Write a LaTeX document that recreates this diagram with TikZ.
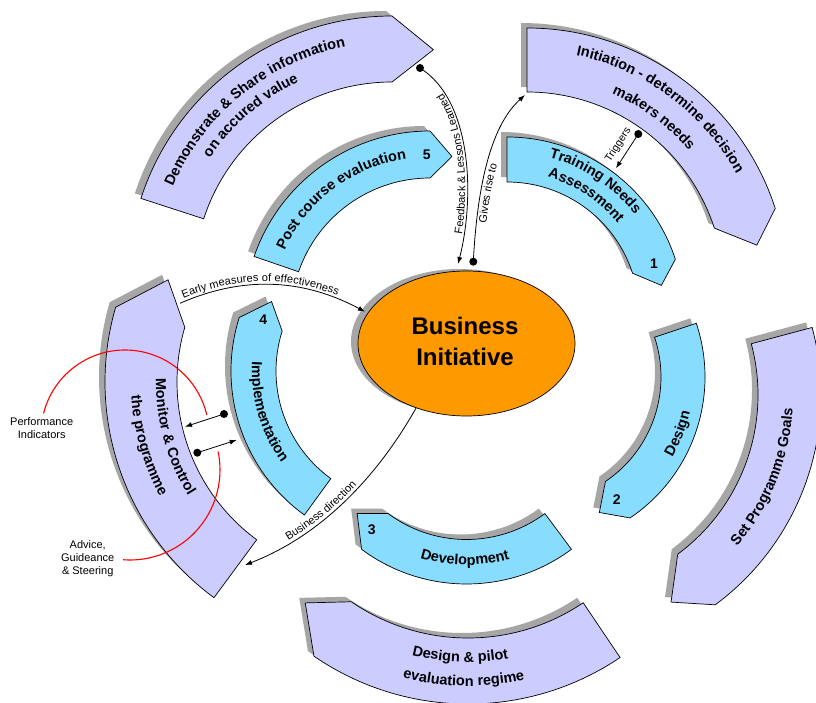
\documentclass[tikz,border=0pt]{standalone}
\usepackage{fontspec}
\setmainfont{Liberation Sans}
\usetikzlibrary{shapes.geometric,arrows.meta,decorations.text}
\definecolor{lav}{HTML}{CCCCFF}
\definecolor{sky}{HTML}{88DDFF}
\definecolor{org}{HTML}{FF9900}
\definecolor{shd}{HTML}{A6A6A6}
\newcommand{\lblf}{\fontsize{14.5}{17}\selectfont\bfseries}
\newcommand{\cnf}{\fontsize{11}{13}\selectfont}
% #1 cx, #2 cy, #3 rin, #4 rout, #5 start angle, #6 end angle, #7 tip angle, #8 tip radius, #9 style
\newcommand{\seg}[9]{%
  \fill[shd] ([shift={(#1-6,#2+5)}]#5:#4pt) arc[start angle=#5, end angle=#6, radius=#4pt]
    -- ([shift={(#1-6,#2+5)}]#7:#8pt) -- ([shift={(#1-6,#2+5)}]#6:#3pt)
    arc[start angle=#6, end angle=#5, radius=#3pt] -- cycle;
  \draw[#9] ([shift={(#1,#2)}]#5:#4pt) arc[start angle=#5, end angle=#6, radius=#4pt]
    -- ([shift={(#1,#2)}]#7:#8pt) -- ([shift={(#1,#2)}]#6:#3pt)
    arc[start angle=#6, end angle=#5, radius=#3pt] -- cycle;
}
% #1 cx, #2 cy, #3 radius, #4 start angle, #5 end angle, #6 text
\newcommand{\atext}[6]{%
  \path[decorate, decoration={text along path, text align=center, text={|\lblf|#6}}]
    ([shift={(#1,#2)}]#4:#3pt) arc[start angle=#4, end angle=#5, radius=#3pt];
}
\begin{document}
\begin{tikzpicture}[x=1pt,y=1pt,
  conn/.style={line width=0.8pt, draw=black},
  arr/.style={conn, -{Latex[length=7pt,width=5pt]}},
  segline/.style={draw=black, line width=0.7pt, line join=miter},
  lavseg/.style={segline, fill=lav},
  skyseg/.style={segline, fill=sky},
  numlbl/.style={font=\fontsize{14}{16}\selectfont\bfseries, inner sep=0pt},
  smlbl/.style={font=\fontsize{11}{13}\selectfont, align=center, inner sep=0pt},
  redarc/.style={draw=red, line width=1.1pt}
]
\useasboundingbox (0,0) rectangle (816,702);
\fill[white] (0,0) rectangle (816,702);

% outer ring (lavender)
\seg{527}{413}{197}{261}{90}{18}{10.8}{234}{lavseg}
\seg{392}{422}{198}{264}{162}{90}{79.8}{234}{lavseg}
\seg{560}{307}{198}{261}{15}{-53.5}{-61.8}{235}{lavseg}
\seg{468}{270}{206}{272}{-56}{-124.5}{-133.6}{236}{lavseg}
\seg{373}{320}{196}{268}{-126.4}{-196.2}{-206.5}{229}{lavseg}
% inner ring (blue)
\seg{507}{388}{132}{177}{90}{18}{10.5}{157}{skyseg}
\seg{535}{325}{126}{170}{18.4}{-56}{-64.6}{150}{skyseg}
\seg{466.5}{294}{131.5}{176}{-53.4}{-126.6}{-136}{152}{skyseg}
\seg{409}{331}{133}{178}{-126}{-197.5}{-206.8}{154}{skyseg}
\seg{430}{385}{139}{186}{161}{90}{82.2}{162}{skyseg}

% curved labels
\atext{527}{413}{239}{98.5}{8.5}{Initiation - determine decision}
\atext{527}{413}{213}{98.5}{8.5}{makers needs}
\atext{507}{388}{162}{96.4}{16.4}{Training Needs}
\atext{507}{388}{143}{96.4}{16.4}{Assessment}
\atext{535}{325}{159}{-61.5}{18.5}{Design}
\atext{560}{307}{233}{-66.9}{23.1}{Set Programme Goals}
\atext{466.5}{294}{157}{-135.6}{-45.6}{Development}
\atext{468}{270}{230}{-137}{-47}{Design {\&} pilot}
\atext{468}{270}{254}{-136}{-46}{evaluation regime}
\atext{409}{331}{157}{151.2}{241.2}{Implementation}
\atext{373}{320}{217}{150.4}{240.4}{Monitor {\&} Control}
\atext{373}{320}{242}{150.7}{240.7}{the programme}
\atext{430}{385}{160}{171.9}{81.9}{Post course evaluation}
\atext{392}{422}{238}{174.1}{84.1}{Demonstrate {\&} Share information}
\atext{392}{422}{219}{175.7}{85.7}{on accured value}

% numbers
\node[numlbl] (n1) at (654,438.7) {1};
\node[numlbl] (n2) at (616.7,202) {2};
\node[numlbl] (n3) at (371.7,172) {3};
\node[numlbl] (n4) at (263.3,382.7) {4};
\node[numlbl] (n5) at (426.7,547) {5};

% central ellipse
\fill[shd] (459.5,360.5) ellipse[x radius=108.5pt, y radius=72.5pt];
\node[ellipse, draw, line width=0.7pt, fill=org, minimum width=217pt, minimum height=145pt, inner sep=0pt] (bi) at (466.5,358.5) {};
\node[font=\fontsize{24}{31}\selectfont\bfseries, align=center] (bitxt) at (465,361) {Business\\Initiative};

% connector end points
\coordinate (fbS) at (420,634);
\coordinate (fbE) at (458,438);
\coordinate (grS) at (473.3,440.3);
\coordinate (grE) at (525,607);
\coordinate (trS) at (638.3,568);
\coordinate (trE) at (616,533.7);
\coordinate (emS) at (180,398.7);
\coordinate (emE) at (365,390.3);
\coordinate (bdE) at (245,137);
\coordinate (maS) at (224,288);
\coordinate (maE) at (185,275.3);
\coordinate (mbS) at (197.3,249.3);
\coordinate (mbE) at (236.7,262);

% connectors
\draw[arr] (fbS) .. controls (474,600) and (474,500) .. (fbE);
\draw[arr] (grS) .. controls (478,530) and (495,580) .. (grE);
\draw[arr] (trS) -- (trE);
\draw[arr] (emS) .. controls (240,425) and (300,425) .. (emE);
\draw[arr] (bi.232) .. controls (380,230) and (325,168) .. (bdE);
\draw[arr] (maS) -- (maE);
\draw[arr] (mbS) -- (mbE);
\foreach \p in {fbS,grS,trS,maS,mbS} \fill (\p) circle[radius=4pt];

% connector labels
\path[decorate, decoration={text along path, text align={left indent=30pt}, raise=2pt, text={|\cnf|Feedback {\&} Lessons Learned}}]
  (fbE) .. controls (474,500) and (474,600) .. (fbS);
\path[decorate, decoration={text along path, text align={left indent=40pt}, raise=-10pt, text={|\cnf|Gives rise to}}]
  (grS) .. controls (478,530) and (495,580) .. (grE);
\path[decorate, decoration={text along path, text align={left indent=5pt}, raise=3pt, text={|\cnf|Early measures of effectiveness}}]
  (emS) .. controls (240,425) and (300,425) .. (emE);
\path[decorate, decoration={text along path, text align={left indent=50pt}, raise=3pt, text={|\cnf|Business direction}}]
  (bdE) .. controls (325,168) and (380,230) .. (bi.232);
\node[rotate=57, font=\fontsize{10.5}{12}\selectfont, inner sep=0pt] (trl) at (618.3,557) {Triggers};

% red callout arcs
\draw[redarc] ([shift={(125,268)}]165.8:84pt) arc[start angle=165.8, end angle=13.1, radius=84pt];
\draw[redarc] ([shift={(130,232)}]11.9:90pt) arc[start angle=11.9, end angle=-94.4, radius=90pt];
\node[smlbl] (perf) at (41.7,274) {Performance\\Indicators};
\node[smlbl] (adv) at (87.7,143.7) {Advice,\\Guideance\\\& Steering};
\end{tikzpicture}
\end{document}
